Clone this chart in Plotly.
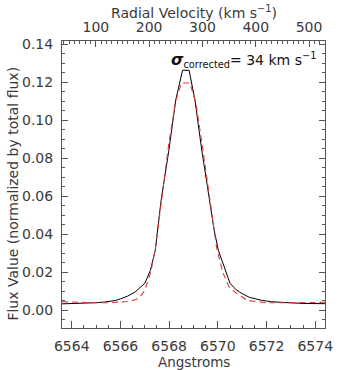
import plotly.graph_objects as go

# Observed spectrum (black) and model (red dashed)
wave_obs = [6563.6, 6564.0, 6564.5, 6565.0, 6565.4, 6565.8, 6566.0, 6566.3, 6566.6, 6566.8,
            6567.0, 6567.23, 6567.43, 6567.67, 6567.99, 6568.27, 6568.55, 6568.82, 6569.06,
            6569.34, 6569.66, 6569.85, 6570.02, 6570.22, 6570.5, 6570.75, 6570.98, 6571.3,
            6571.78, 6572.2, 6572.7, 6573.5, 6574.4]
flux_obs = [0.0034, 0.0035, 0.0037, 0.0040, 0.0044, 0.0052, 0.0060, 0.0075, 0.0096, 0.0118,
            0.0142, 0.0210, 0.0316, 0.0579, 0.0842, 0.1105, 0.1262, 0.1262, 0.1105,
            0.0842, 0.0579, 0.0420, 0.0316, 0.0247, 0.0142, 0.0108, 0.0089, 0.0068,
            0.0053, 0.0045, 0.0040, 0.0036, 0.0035]

wave_fit = [6563.6, 6564.0, 6564.5, 6565.0, 6565.5, 6566.0, 6566.3, 6566.6, 6566.8, 6567.0,
            6567.23, 6567.43, 6567.67, 6567.99, 6568.27, 6568.5, 6568.85, 6569.1, 6569.38,
            6569.7, 6569.95, 6570.2, 6570.45, 6570.7, 6571.0, 6571.2, 6571.6, 6572.0,
            6573.0, 6574.4]
flux_fit = [0.0045, 0.0043, 0.0041, 0.0040, 0.0040, 0.0042, 0.0046, 0.0055, 0.0070, 0.0105,
            0.0195, 0.0320, 0.0560, 0.0880, 0.1100, 0.1195, 0.1195, 0.1090, 0.0850,
            0.0560, 0.0330, 0.0200, 0.0125, 0.0096, 0.0070, 0.0053, 0.0045, 0.0040,
            0.0040, 0.0042]

x_range = [6563.6, 6574.4]
y_range = [-0.0093, 0.1416]
x_ticks = [6564, 6566, 6568, 6570, 6572, 6574]
y_ticks = [0.00, 0.02, 0.04, 0.06, 0.08, 0.10, 0.12, 0.14]
v_ticks = [100, 200, 300, 400, 500]
rest_wave = 6562.8
c_kms = 299792.458

v_range = [(w - rest_wave) / rest_wave * c_kms for w in x_range]

FONT = "DejaVu Sans"
TXT = "#3a3a3a"
AX = "#555555"

fig = go.Figure()
fig.add_trace(go.Scatter(x=wave_obs, y=flux_obs, mode="lines",
                         line=dict(color="black", width=1), showlegend=False))
fig.add_trace(go.Scatter(x=wave_fit, y=flux_fit, mode="lines",
                         line=dict(color="#e03a3a", width=1.1, dash="6px,4px"), showlegend=False))
# invisible trace to activate top axis
fig.add_trace(go.Scatter(x=v_range, y=[None, None], xaxis="x2", yaxis="y",
                         mode="lines", showlegend=False, hoverinfo="skip"))

fig.update_layout(
    width=340, height=370,
    margin=dict(l=62, r=7, t=41, b=42),
    plot_bgcolor="white", paper_bgcolor="white",
    font=dict(family=FONT, size=14, color=TXT),
    xaxis=dict(range=x_range, tickvals=x_ticks, ticktext=[str(t) for t in x_ticks],
               ticks="inside", ticklen=7, tickwidth=1, tickcolor=AX,
               showline=True, linecolor=AX, linewidth=1, mirror=False,
               showgrid=False, zeroline=False, ticklabeloverflow="allow",
               minor=dict(dtick=0.5, tick0=6564, ticks="inside", ticklen=3, tickcolor=AX, showgrid=False),
               ticklabelstandoff=5),
    xaxis2=dict(range=v_range, overlaying="x", side="top", anchor="y",
                tickvals=v_ticks, ticktext=[str(t) for t in v_ticks],
                ticks="inside", ticklen=6, tickwidth=1, tickcolor=AX,
                showline=True, linecolor=AX, linewidth=1, ticklabeloverflow="allow",
                showgrid=False, zeroline=False,
                minor=dict(dtick=10, tick0=0, ticks="inside", ticklen=3, tickcolor=AX, showgrid=False),
                ticklabelstandoff=2),
    yaxis=dict(range=y_range, tickvals=y_ticks, ticktext=[f"{t:.2f}" for t in y_ticks],
               ticks="inside", ticklen=6, tickwidth=1, tickcolor=AX,
               showline=True, linecolor=AX, linewidth=1, mirror="ticks",
               showgrid=False, zeroline=False, ticklabeloverflow="allow",
               minor=dict(dtick=0.005, tick0=0, ticks="inside", ticklen=3, tickcolor=AX, showgrid=False),
               ticklabelstandoff=5),
    annotations=[
        dict(xref="paper", yref="paper", x=0.975, y=0.933, xanchor="right", yanchor="middle",
             showarrow=False,
             text="<b><i><span style='font-size:16px'>\u03c3</span></i></b><sub>corrected</sub>= 34 km s<sup>\u22121</sup>",
             font=dict(family=FONT, size=14, color="#111111")),
        dict(xref="paper", yref="paper", x=0.5, y=1.101, xanchor="center", yanchor="middle",
             showarrow=False, text="Radial Velocity (km s<sup>\u22121</sup>)",
             font=dict(family=FONT, size=14, color=TXT)),
        dict(xref="paper", yref="paper", x=0.5, y=-0.118, xanchor="center", yanchor="middle",
             showarrow=False, text="Angstroms",
             font=dict(family=FONT, size=13.5, color=TXT)),
        dict(xref="paper", yref="paper", x=-0.1845, y=0.47, xanchor="center", yanchor="middle",
             showarrow=False, textangle=-90, text="Flux Value (normalized by total flux)",
             font=dict(family=FONT, size=14, color=TXT)),
    ],
)

fig.write_html("out.html")
